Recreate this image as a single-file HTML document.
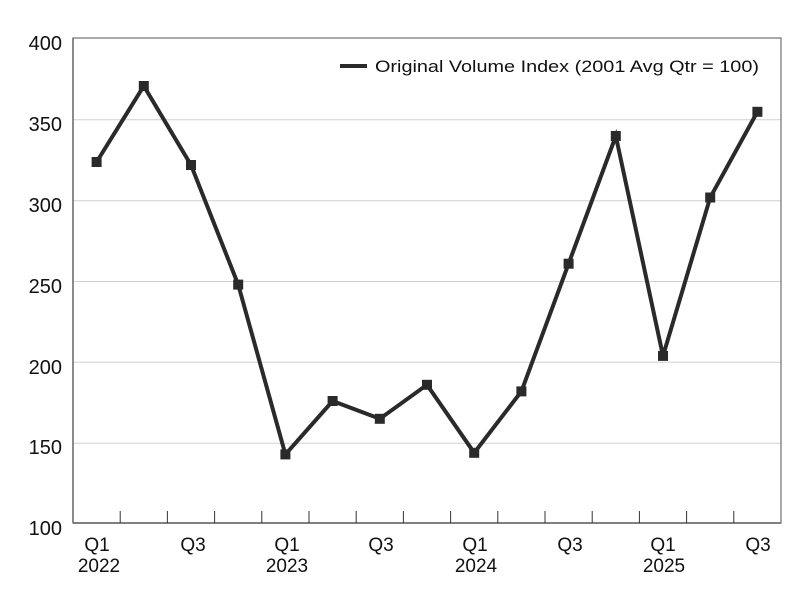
<!DOCTYPE html>
<html><head><meta charset="utf-8"><style>body{margin:0;background:#fff}</style></head>
<body>
<svg width="800" height="600" xmlns="http://www.w3.org/2000/svg" font-family="Liberation Sans, Arial, sans-serif">
<g stroke="#d0d0d0" stroke-width="1">
<line x1="73" y1="119.8" x2="781" y2="119.8"/>
<line x1="73" y1="200.7" x2="781" y2="200.7"/>
<line x1="73" y1="281.5" x2="781" y2="281.5"/>
<line x1="73" y1="362.3" x2="781" y2="362.3"/>
<line x1="73" y1="443.2" x2="781" y2="443.2"/>
</g>
<rect x="73" y="38" width="708" height="485" fill="none" stroke="#555" stroke-width="1"/>
<line x1="73" y1="523" x2="781" y2="523" stroke="#555" stroke-width="1.5"/>
<line x1="73" y1="38" x2="73" y2="523" stroke="#666" stroke-width="1.5"/>
<g stroke="#333" stroke-width="1">
<line x1="120.2" y1="511" x2="120.2" y2="523"/><line x1="167.4" y1="511" x2="167.4" y2="523"/>
<line x1="214.6" y1="511" x2="214.6" y2="523"/><line x1="261.8" y1="511" x2="261.8" y2="523"/>
<line x1="309" y1="511" x2="309" y2="523"/><line x1="356.2" y1="511" x2="356.2" y2="523"/>
<line x1="403.4" y1="511" x2="403.4" y2="523"/><line x1="450.6" y1="511" x2="450.6" y2="523"/>
<line x1="497.8" y1="511" x2="497.8" y2="523"/><line x1="545" y1="511" x2="545" y2="523"/>
<line x1="592.2" y1="511" x2="592.2" y2="523"/><line x1="639.4" y1="511" x2="639.4" y2="523"/>
<line x1="686.6" y1="511" x2="686.6" y2="523"/><line x1="733.8" y1="511" x2="733.8" y2="523"/>
</g>
<g font-size="20" fill="#111" text-anchor="end">
<text x="62" y="50">400</text><text x="62" y="131">350</text><text x="62" y="212">300</text>
<text x="62" y="293">250</text><text x="62" y="374">200</text><text x="62" y="454">150</text><text x="62" y="535">100</text>
</g>
<g font-size="19" fill="#111" text-anchor="middle">
<text x="97" y="551">Q1</text><text x="99" y="572">2022</text>
<text x="193" y="551">Q3</text>
<text x="287" y="551">Q1</text><text x="287" y="572">2023</text>
<text x="381" y="551">Q3</text>
<text x="475" y="551">Q1</text><text x="476" y="572">2024</text>
<text x="570" y="551">Q3</text>
<text x="663" y="551">Q1</text><text x="664" y="572">2025</text>
<text x="758" y="551">Q3</text>
</g>
<polyline fill="none" stroke="#2a2a2a" stroke-width="4" stroke-linejoin="miter" points="96.6,162 143.8,86 191,165 238.2,284.6 285.4,454.4 332.6,401 379.8,418.8 427,384.8 474.2,452.8 521.4,391.4 568.6,263.7 615.8,136 663,355.9 710.2,197.5 757.4,111.8"/>
<g fill="#2a2a2a">
<rect x="91.6" y="157" width="10" height="10"/><rect x="138.8" y="81" width="10" height="10"/>
<rect x="186" y="160" width="10" height="10"/><rect x="233.2" y="279.6" width="10" height="10"/>
<rect x="280.4" y="449.4" width="10" height="10"/><rect x="327.6" y="396" width="10" height="10"/>
<rect x="374.8" y="413.8" width="10" height="10"/><rect x="422" y="379.8" width="10" height="10"/>
<rect x="469.2" y="447.8" width="10" height="10"/><rect x="516.4" y="386.4" width="10" height="10"/>
<rect x="563.6" y="258.7" width="10" height="10"/><rect x="610.8" y="131" width="10" height="10"/>
<rect x="658" y="350.9" width="10" height="10"/><rect x="705.2" y="192.5" width="10" height="10"/>
<rect x="752.4" y="106.8" width="10" height="10"/>
</g>
<line x1="340" y1="66" x2="367" y2="66" stroke="#2a2a2a" stroke-width="4"/>
<text x="375" y="72" font-size="17" fill="#111" textLength="384" lengthAdjust="spacingAndGlyphs">Original Volume Index (2001 Avg Qtr = 100)</text>
</svg>
</body></html>
